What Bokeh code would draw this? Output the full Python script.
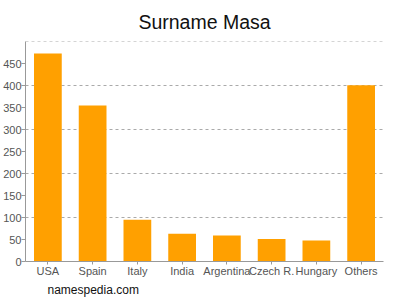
from bokeh.plotting import figure
from bokeh.models import FixedTicker, Title, Range1d
from bokeh.embed import file_html
from bokeh.resources import INLINE

categories = ["USA", "Spain", "Italy", "India", "Argentina", "Czech R.", "Hungary", "Others"]
counts = [473, 355, 95, 63, 59, 51, 48, 401]
y_ticks = [0, 50, 100, 150, 200, 250, 300, 350, 400, 450]
grid_ticks = [100, 200, 300, 400, 500]

FONT = "Liberation Sans"

p = figure(x_range=categories, width=400, height=300, output_backend="svg",
           toolbar_location=None, min_border_left=24, min_border_right=17,
           min_border_top=40, min_border_bottom=39)
p.y_range = Range1d(0, 500.5)
p.vbar(x=categories, top=counts, width=0.62, color="#FFA000", line_color=None)

p.title.text = "Surname Masa"
p.title.align = "center"
p.title.text_font = FONT
p.title.text_font_size = "19.5px"
p.title.text_font_style = "normal"
p.title.text_color = "#111111"
p.title.offset = 0
p.title.standoff = 17

src = Title(text="namespedia.com", align="left", text_font=FONT, text_font_size="12px",
            text_font_style="normal", text_color="#111111", offset=22, standoff=3)
p.add_layout(src, "below")

p.outline_line_color = None
p.xgrid.grid_line_color = None
p.ygrid.ticker = FixedTicker(ticks=grid_ticks)
p.ygrid.grid_line_color = "#aaaaaa"
p.ygrid.grid_line_dash = "3 3"

p.yaxis.ticker = FixedTicker(ticks=y_ticks)
for ax in (p.xaxis[0], p.yaxis[0]):
    ax.axis_line_color = "#999999"
    ax.major_tick_line_color = "#999999"
    ax.major_tick_in = 0
    ax.major_tick_out = 4
    ax.minor_tick_line_color = None
    ax.major_label_text_font = FONT
    ax.major_label_text_font_size = "11px"
    ax.major_label_text_color = "#555555"
p.xaxis.major_tick_out = 3
p.xaxis.major_label_standoff = 0
p.yaxis.major_label_standoff = 0
p.x_range.range_padding = 0.0

open("out.html", "w").write(file_html(p, INLINE))
